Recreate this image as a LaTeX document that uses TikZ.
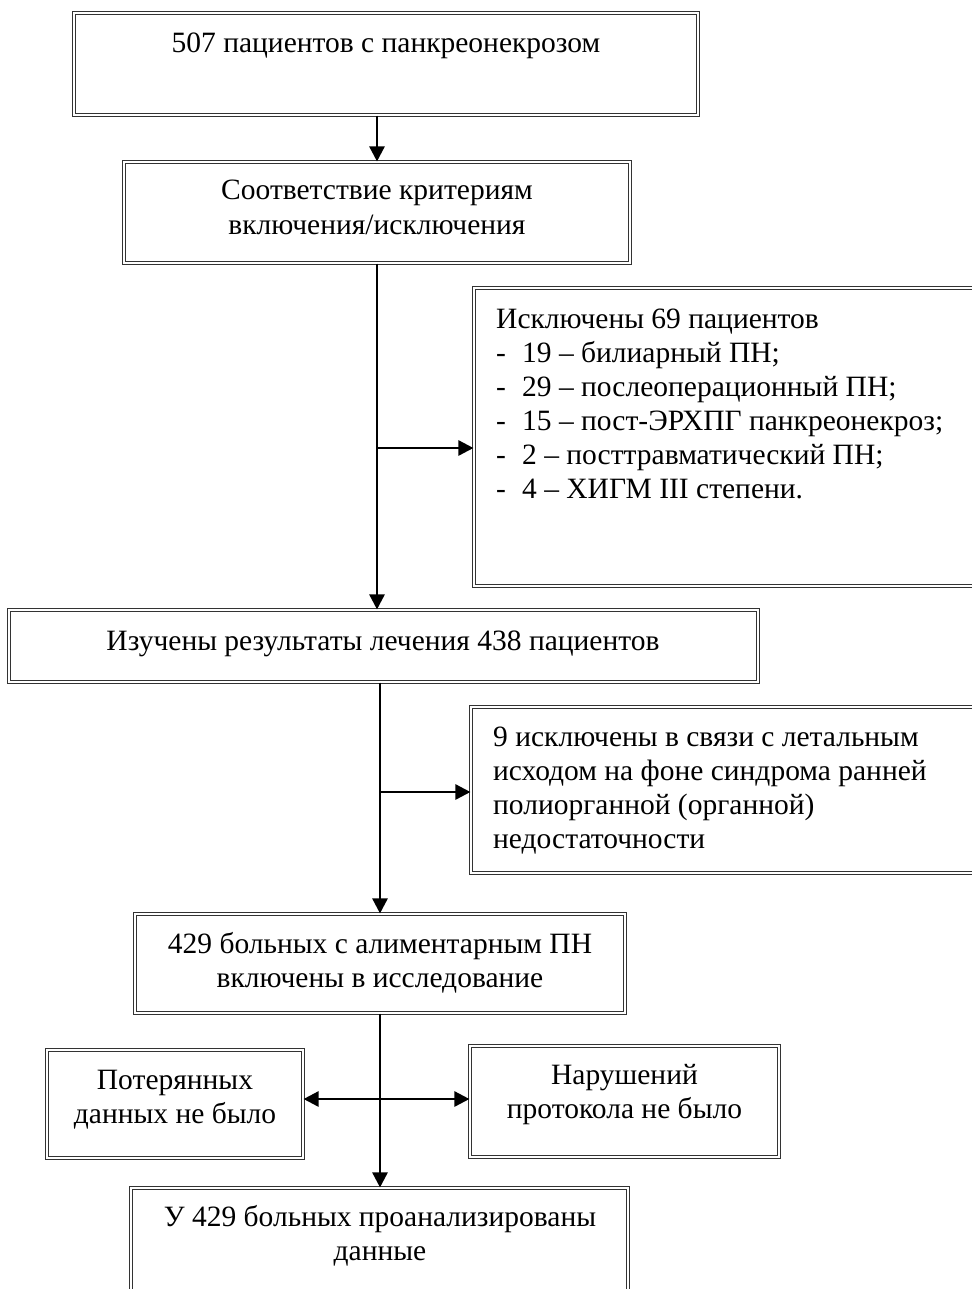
\documentclass[tikz,border=0pt]{standalone}
\usepackage{fontspec}
\setmainfont{Liberation Serif}
\usetikzlibrary{arrows.meta}
\begin{document}
\begin{tikzpicture}[x=1pt,y=-1pt,
  box/.style={draw=black!80, double, double distance=1.6pt, line width=1.1pt, inner sep=0pt},
  txt/.style={font=\fontsize{29.5}{34}\selectfont, inner sep=0pt},
  conn/.style={line width=2.5pt, -{Triangle[length=15pt,width=15pt]}},
  dconn/.style={line width=2.5pt, {Triangle[length=15pt,width=15pt]}-{Triangle[length=15pt,width=15pt]}},
]
\useasboundingbox (0,0) rectangle (971,1289);
% boxes
\node[box, minimum width=624pt, minimum height=102pt] (b1) at (386,64) {};
\node[box, minimum width=506pt, minimum height=101pt] (b2) at (377,212.5) {};
\node[box, minimum width=516pt, minimum height=298pt] (ex1) at (732,437) {};
\node[box, minimum width=749pt, minimum height=72pt] (b3) at (383.5,646) {};
\node[box, minimum width=519pt, minimum height=166pt] (ex2) at (730.5,790) {};
\node[box, minimum width=490pt, minimum height=99pt] (b4) at (380,963.5) {};
\node[box, minimum width=256pt, minimum height=108pt] (lb) at (175,1104) {};
\node[box, minimum width=309pt, minimum height=111pt] (rb) at (624.5,1101.5) {};
\node[box, minimum width=497pt, minimum height=122pt] (b5) at (379.5,1249) {};
% texts (anchor=base is the baseline of the last line)
\node[txt, anchor=base] (t1) at (386,53) {507 пациентов с панкреонекрозом};
\node[txt, anchor=base, align=center] (t2) at (377,234) {Соответствие критериям\\включения/исключения};
\node[txt, anchor=base west, align=left] (tex1) at (496,498) {Исключены 69 пациентов\\
\makebox[26pt][l]{-}19 – билиарный ПН;\\
\makebox[26pt][l]{-}29 – послеоперационный ПН;\\
\makebox[26pt][l]{-}15 – пост-ЭРХПГ панкреонекроз;\\
\makebox[26pt][l]{-}2 – посттравматический ПН;\\
\makebox[26pt][l]{-}4 – ХИГМ III степени.};
\node[txt, anchor=base] (t3) at (383,650) {Изучены результаты лечения 438 пациентов};
\node[txt, anchor=base west, align=left] (tex2) at (493,848) {9 исключены в связи с летальным\\исходом на фоне синдрома ранней\\полиорганной (органной)\\недостаточности};
\node[txt, anchor=base, align=center] (t4) at (380,987) {429 больных с алиментарным ПН\\включены в исследование};
\node[txt, anchor=base, align=center] (tl) at (175,1123) {Потерянных\\данных не было};
\node[txt, anchor=base, align=center] (tr) at (624.5,1118) {Нарушений\\протокола не было};
\node[txt, anchor=base, align=center] (t5) at (380,1260) {У 429 больных проанализированы\\данные};
% connectors
\coordinate (j1) at (377,448);
\coordinate (j2) at (380,792);
\coordinate (j3) at (380,1099);
\draw[conn] (b1.south -| b2.north) -- (b2.north);
\draw[conn] (b2.south) -- (b2.south |- b3.north);
\draw[conn] (j1) -- (j1 -| ex1.west);
\draw[conn] (b3.south -| b4.north) -- (b4.north);
\draw[conn] (j2) -- (j2 -| ex2.west);
\draw[conn] (b4.south) -- (b4.south |- b5.north);
\draw[dconn] (lb.east |- j3) -- (rb.west |- j3);
\end{tikzpicture}
\end{document}
